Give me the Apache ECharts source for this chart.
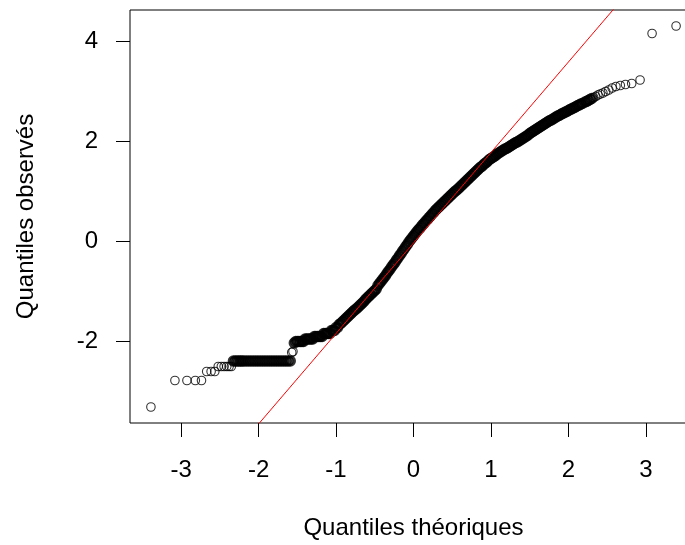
<!DOCTYPE html>
<html>
<head>
<meta charset="utf-8">
<script src="https://cdn.jsdelivr.net/npm/echarts@6/dist/echarts.min.js"></script>
<style>
  html, body { margin: 0; padding: 0; background: #ffffff; }
  #chart { width: 685px; height: 545px; }
</style>
</head>
<body>
<div id="chart"></div>
<script>
// Normal Q-Q plot: [theoretical quantile, observed quantile]

// Lower tail: few distinct values, ties
const lowTail = [
  [-3.39, -3.31],
  [-3.08, -2.78], [-2.925, -2.78], [-2.817, -2.78], [-2.737, -2.78],
  [-2.670, -2.60], [-2.613, -2.60], [-2.565, -2.60],
  [-2.521, -2.50], [-2.481, -2.50], [-2.445, -2.50], [-2.411, -2.50], [-2.381, -2.50], [-2.352, -2.50]
];

// Long run of tied values at -2.39
const plateau = [
  [-2.326, -2.39], [-2.301, -2.39], [-2.278, -2.39], [-2.255, -2.39], [-2.234, -2.39], [-2.213, -2.39],
  [-2.19, -2.39], [-2.16, -2.39], [-2.13, -2.39], [-2.10, -2.39], [-2.07, -2.39], [-2.04, -2.39],
  [-2.01, -2.39], [-1.98, -2.39], [-1.95, -2.39], [-1.92, -2.39], [-1.89, -2.39], [-1.86, -2.39],
  [-1.83, -2.39], [-1.80, -2.39], [-1.77, -2.39], [-1.74, -2.39], [-1.71, -2.39], [-1.68, -2.39],
  [-1.65, -2.39], [-1.62, -2.39], [-1.59, -2.39]
];

// Isolated values just after the run of ties
const plateauStep = [[-1.572, -2.22], [-1.556, -2.20]];

// Lower body: stepped values
const bandLow = [
  [-1.54, -2.03],
  [-1.52, -2.00], [-1.50, -2.00], [-1.48, -2.00], [-1.46, -2.00], [-1.44, -2.00], [-1.42, -2.00],
  [-1.40, -1.95], [-1.38, -1.95], [-1.36, -1.95], [-1.34, -1.95], [-1.32, -1.95], [-1.30, -1.95],
  [-1.28, -1.90], [-1.26, -1.90], [-1.24, -1.90], [-1.22, -1.90], [-1.20, -1.90], [-1.18, -1.90],
  [-1.16, -1.84], [-1.14, -1.84], [-1.12, -1.84], [-1.10, -1.84], [-1.08, -1.84],
  [-1.06, -1.78], [-1.04, -1.78], [-1.02, -1.78],
  [-1.00, -1.72], [-0.98, -1.72], [-0.96, -1.66], [-0.94, -1.64], [-0.92, -1.61], [-0.90, -1.58],
  [-0.88, -1.55], [-0.86, -1.52], [-0.84, -1.49], [-0.82, -1.46], [-0.80, -1.43], [-0.78, -1.40],
  [-0.76, -1.37], [-0.74, -1.35], [-0.72, -1.32], [-0.70, -1.29], [-0.68, -1.26], [-0.66, -1.23],
  [-0.64, -1.20], [-0.62, -1.16], [-0.60, -1.13], [-0.58, -1.10], [-0.56, -1.07], [-0.54, -1.04],
  [-0.52, -1.01], [-0.50, -0.98], [-0.48, -0.95]
];

// Central body
const bandMid = [
  [-0.46, -0.88], [-0.44, -0.84], [-0.42, -0.80], [-0.40, -0.76], [-0.38, -0.72], [-0.36, -0.68],
  [-0.34, -0.63], [-0.32, -0.59], [-0.30, -0.55], [-0.28, -0.50], [-0.26, -0.46], [-0.24, -0.42],
  [-0.22, -0.37], [-0.20, -0.33], [-0.18, -0.28], [-0.16, -0.24], [-0.14, -0.19], [-0.12, -0.15],
  [-0.10, -0.10], [-0.08, -0.06], [-0.06, -0.01], [-0.04, 0.03], [-0.02, 0.07], [0.00, 0.11],
  [0.02, 0.15], [0.04, 0.19], [0.06, 0.23], [0.08, 0.26], [0.10, 0.30], [0.12, 0.34],
  [0.14, 0.37], [0.16, 0.41], [0.18, 0.44], [0.20, 0.48], [0.22, 0.51], [0.24, 0.55],
  [0.26, 0.58], [0.28, 0.62], [0.30, 0.65], [0.32, 0.68], [0.34, 0.71], [0.36, 0.74],
  [0.38, 0.77], [0.40, 0.80], [0.42, 0.83], [0.44, 0.86], [0.46, 0.89], [0.48, 0.92],
  [0.50, 0.95], [0.52, 0.98], [0.54, 1.01], [0.56, 1.03], [0.58, 1.06], [0.60, 1.09],
  [0.62, 1.12], [0.64, 1.15], [0.66, 1.18], [0.68, 1.21], [0.70, 1.24], [0.72, 1.27],
  [0.74, 1.30], [0.76, 1.33], [0.78, 1.36], [0.80, 1.39], [0.82, 1.42], [0.84, 1.45],
  [0.86, 1.48], [0.88, 1.50], [0.90, 1.53], [0.92, 1.56], [0.94, 1.58], [0.96, 1.61],
  [0.98, 1.64], [1.00, 1.66]
];

// Upper body, flattening
const bandHigh = [
  [1.02, 1.68], [1.04, 1.70], [1.06, 1.72], [1.08, 1.75], [1.10, 1.77], [1.12, 1.79],
  [1.14, 1.81], [1.16, 1.83], [1.18, 1.85], [1.20, 1.86], [1.22, 1.88], [1.24, 1.90],
  [1.26, 1.92], [1.28, 1.94], [1.30, 1.96], [1.32, 1.98], [1.34, 1.99], [1.36, 2.01],
  [1.38, 2.03], [1.40, 2.05], [1.42, 2.07], [1.44, 2.09], [1.46, 2.11], [1.48, 2.13],
  [1.50, 2.16], [1.52, 2.18], [1.54, 2.20], [1.56, 2.22], [1.58, 2.24], [1.60, 2.26],
  [1.62, 2.28], [1.64, 2.30], [1.66, 2.32], [1.68, 2.34], [1.70, 2.36], [1.72, 2.38],
  [1.74, 2.40], [1.76, 2.42], [1.78, 2.43], [1.80, 2.45], [1.82, 2.47], [1.84, 2.49],
  [1.86, 2.51], [1.88, 2.52], [1.90, 2.54], [1.92, 2.56], [1.94, 2.57], [1.96, 2.59],
  [1.98, 2.60], [2.00, 2.62], [2.02, 2.64], [2.04, 2.65], [2.06, 2.67], [2.08, 2.68],
  [2.10, 2.70], [2.12, 2.72], [2.14, 2.73], [2.16, 2.75], [2.18, 2.76],
  [2.213, 2.79], [2.234, 2.80], [2.255, 2.82], [2.278, 2.84], [2.301, 2.86]
];

// Upper tail, individual points
const highTail = [
  [2.326, 2.88], [2.352, 2.90], [2.381, 2.93], [2.411, 2.95], [2.445, 2.97], [2.481, 3.00],
  [2.521, 3.03], [2.565, 3.07], [2.613, 3.10], [2.670, 3.12], [2.737, 3.14], [2.817, 3.16],
  [2.925, 3.23], [3.08, 4.16], [3.39, 4.31]
];

// Reference line (qqline): observed = intercept + slope * theoretical
const qqLine = { intercept: -0.03, slope: 1.81 };

const xTicks = [-3, -2, -1, 0, 1, 2, 3];
const yTicks = [-2, 0, 2, 4];
const xRange = [-3.66, 3.66];
const yRange = [-3.63, 4.63];

const xTitle = 'Quantiles théoriques';
const yTitle = 'Quantiles observés';

// Where many observations pile up, the rings overlap into a solid band
const densePoints = [].concat(plateau, bandLow, bandMid, bandHigh);
const sparsePoints = [].concat(lowTail, plateauStep, highTail);
const linePoints = xRange.map(x => [x, qqLine.intercept + qqLine.slope * x]);

const FONT = "'Liberation Sans', Arial, sans-serif";
const textStyle = { color: '#000', fontFamily: FONT, fontSize: 24 };
const tickStyle = { color: '#000', width: 1 };

const chart = echarts.init(document.getElementById('chart'), null, { renderer: 'canvas' });
chart.setOption({
  animation: false,
  backgroundColor: '#ffffff',
  grid: {
    left: 130, top: 10, width: 567, height: 413,
    outerBoundsMode: 'none',
    containLabel: false,
    show: true, borderColor: '#000', borderWidth: 1, backgroundColor: 'transparent'
  },
  xAxis: {
    type: 'value', min: xRange[0], max: xRange[1],
    axisLine: { show: false, onZero: false },
    splitLine: { show: false },
    axisTick: { show: true, length: 14, lineStyle: tickStyle, customValues: xTicks },
    axisLabel: { ...textStyle, margin: 35, customValues: xTicks },
    name: xTitle, nameLocation: 'middle', nameGap: 93,
    nameTextStyle: { ...textStyle }
  },
  yAxis: {
    type: 'value', min: yRange[0], max: yRange[1],
    axisLine: { show: false, onZero: false },
    splitLine: { show: false },
    axisTick: { show: true, length: 14, lineStyle: tickStyle, customValues: yTicks },
    axisLabel: { ...textStyle, margin: 32, customValues: yTicks },
    name: yTitle, nameLocation: 'middle', nameGap: 92, nameRotate: 90,
    nameTextStyle: { ...textStyle }
  },
  series: [
    {
      type: 'scatter',
      data: densePoints,
      symbol: 'circle',
      symbolSize: 8.5,
      itemStyle: { color: 'rgba(0,0,0,0)', borderColor: '#000', borderWidth: 2.8 },
      z: 2
    },
    {
      type: 'scatter',
      data: sparsePoints,
      symbol: 'circle',
      symbolSize: 8.5,
      itemStyle: { color: 'rgba(0,0,0,0)', borderColor: '#000', borderWidth: 1.1 },
      z: 2
    },
    {
      type: 'line',
      data: linePoints,
      symbol: 'none',
      clip: true,
      lineStyle: { color: '#ff0000', width: 1 },
      z: 3
    }
  ]
});
</script>
</body>
</html>
